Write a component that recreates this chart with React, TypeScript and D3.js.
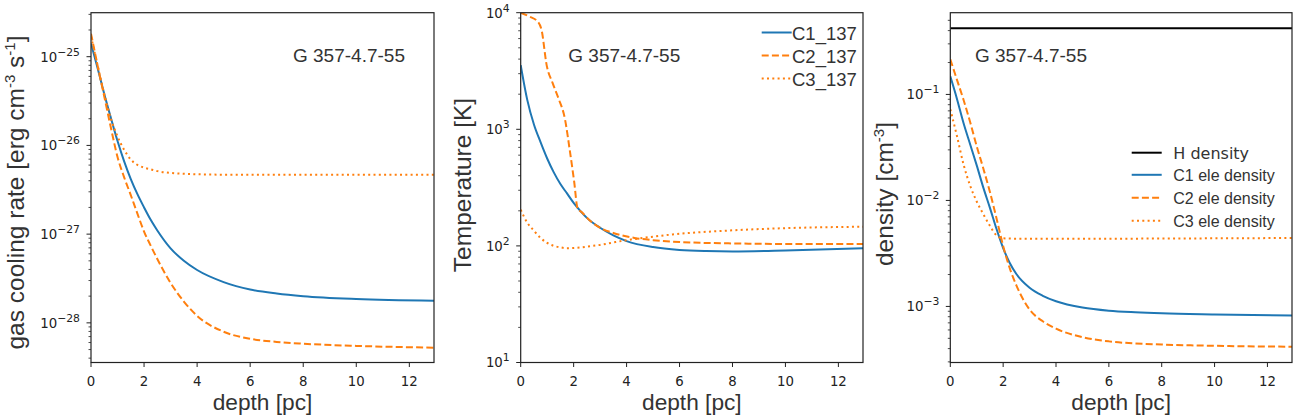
import React from 'react';
import * as d3 from 'd3';

// depth grid shared by most profiles (pc)
const depth = [0, 0.25, 0.5, 0.75, 1, 1.25, 1.5, 1.75, 2, 2.25, 2.5, 3, 3.5, 4, 5, 6, 7, 8, 10, 12.93];

// gas cooling rate [erg cm^-3 s^-1]
const coolC1 = [1.41e-25, 7.41e-26, 3.8e-26, 2.04e-26, 1.12e-26, 6.61e-27, 4.17e-27, 2.82e-27, 2.0e-27, 1.45e-27, 1.1e-27, 6.92e-28, 5.01e-28, 3.94e-28, 2.88e-28, 2.37e-28, 2.14e-28, 2.0e-28, 1.86e-28, 1.78e-28];
const coolC2 = [1.82e-25, 7.94e-26, 3.55e-26, 1.58e-26, 7.41e-27, 4.37e-27, 2.75e-27, 1.7e-27, 1.07e-27, 7.41e-28, 5.25e-28, 2.82e-28, 1.74e-28, 1.2e-28, 7.94e-29, 6.61e-29, 6.1e-29, 5.82e-29, 5.5e-29, 5.25e-29];
const coolC3 = [1.7e-25, 7.94e-26, 3.8e-26, 2.0e-26, 1.26e-26, 8.91e-27, 6.92e-27, 6.03e-27, 5.62e-27, 5.37e-27, 5.13e-27, 4.9e-27, 4.79e-27, 4.73e-27, 4.68e-27, 4.68e-27, 4.68e-27, 4.68e-27, 4.68e-27, 4.68e-27];

// temperature [K]
const tempC1 = [3550, 1780, 1100, 776, 562, 427, 339, 282, 234, 200, 174, 143, 123, 110, 97.7, 92.3, 90.2, 89.5, 91.2, 95.5];
const depthTempC2 = [0, 0.3, 0.66, 0.79, 0.98, 1.2, 1.42, 1.67, 1.86, 2.02, 2.15, 2.3, 2.6, 3.05, 3.5, 4.3, 5, 6, 8, 10, 12.93];
const tempC2 = [10000, 9330, 8320, 7080, 3550, 2510, 1860, 1230, 646, 355, 209, 195, 166, 141, 129, 117, 112, 108, 105, 104, 104];
const tempC3 = [204, 158, 135, 117, 106, 100, 97.2, 95.5, 95.9, 97.0, 98.6, 102, 107, 112, 120, 127, 132, 136, 142, 146];

// densities [cm^-3]
const depthH = [0, 12.93];
const densH = [0.42, 0.42];
const eleC1 = [0.148, 0.0912, 0.0537, 0.0339, 0.0214, 0.0132, 0.00851, 0.00537, 0.00355, 0.00257, 0.00202, 0.0015, 0.00126, 0.00112, 0.000977, 0.000912, 0.000881, 0.000861, 0.000841, 0.000822];
const eleC2 = [0.214, 0.138, 0.0891, 0.055, 0.0324, 0.02, 0.012, 0.00676, 0.00372, 0.00229, 0.00158, 0.000933, 0.000724, 0.000617, 0.000513, 0.000468, 0.000447, 0.000437, 0.000425, 0.000417];
const eleC3 = [0.0724, 0.0407, 0.0219, 0.0138, 0.00977, 0.00741, 0.00575, 0.00468, 0.00439, 0.00437, 0.00435, 0.00435, 0.00435, 0.00435, 0.00435, 0.00435, 0.00436, 0.00437, 0.00439, 0.00442];

const xTicks = [0, 2, 4, 6, 8, 10, 12];
const tempLegend = ['C1_137', 'C2_137', 'C3_137'];
const densLegend = ['H density', 'C1 ele density', 'C2 ele density', 'C3 ele density'];
const sourceName = 'G 357-4.7-55';

const BLUE = '#1f77b4';
const ORANGE = '#ff7f0e';
const DASH = '7,3.2';
const DOT = '2,3.3';
const SANS = '"Liberation Sans", Arial, Helvetica, sans-serif';
const TICKFONT = '"DejaVu Sans", sans-serif';
const INK = '#222';

const X_MAX = 12.93;

const sup = (n: number) => (n < 0 ? '\u2212' + Math.abs(n) : String(n));

// label pieces: plain text or superscript
type Piece = { t: string; up?: boolean };

function Label({ pieces }: { pieces: Piece[] }) {
  let raised = false;
  return (
    <>
      {pieces.map((p, i) => {
        let dy = 0;
        if (p.up && !raised) dy = -9;
        if (!p.up && raised) dy = 9;
        raised = !!p.up;
        return (
          <tspan key={i} dy={dy || undefined} fontSize={p.up ? 15 : undefined}>
            {p.t}
          </tspan>
        );
      })}
    </>
  );
}

function Panel({ id, left, right, top, bottom, yExp, series, yLabel, yLabelX, yLabelY, noteX, legend }) {
  const x = d3.scaleLinear().domain([0, X_MAX]).range([left, right]);
  const y = d3.scaleLog().domain([Math.pow(10, yExp[0]), Math.pow(10, yExp[1])]).range([bottom, top]);
  const ticks = y.ticks();
  const isMajor = (v) => Math.abs(Math.log10(v) - Math.round(Math.log10(v))) < 1e-6;
  const line = d3.line().curve(d3.curveMonotoneX);

  return (
    <g>
      <defs>
        <clipPath id={id}>
          <rect x={left} y={top} width={right - left} height={bottom - top} />
        </clipPath>
      </defs>
      <g clipPath={`url(#${id})`}>
        {series.map((s, i) => (
          <path
            key={i}
            d={line(s.x.map((d, j) => [x(d), y(s.y[j])]))}
            fill="none"
            stroke={s.color}
            strokeWidth={2}
            strokeDasharray={s.dash}
          />
        ))}
      </g>
      <rect x={left} y={top} width={right - left} height={bottom - top} fill="none" stroke={INK} strokeWidth={1.2} />
      {xTicks.map((t) => (
        <g key={t}>
          <line x1={x(t)} x2={x(t)} y1={bottom} y2={bottom + 4.5} stroke={INK} strokeWidth={1} />
          <text x={x(t)} y={bottom + 23.5} textAnchor="middle" fontFamily={TICKFONT} fontSize={13.3} fill={INK}>
            {t}
          </text>
        </g>
      ))}
      {ticks.map((v, i) => {
        const major = isMajor(v);
        const yy = y(v);
        return (
          <g key={i}>
            <line x1={left - (major ? 4.5 : 2.5)} x2={left} y1={yy} y2={yy} stroke={INK} strokeWidth={major ? 1 : 0.8} />
            {major && (
              <text x={left - 11} y={yy + 4.8} textAnchor="end" fontFamily={TICKFONT} fontSize={13.3} fill={INK}>
                10
                <tspan fontSize={10.8} dy={-6}>
                  {sup(Math.round(Math.log10(v)))}
                </tspan>
              </text>
            )}
          </g>
        );
      })}
      <text x={(left + right) / 2} y={409.5} textAnchor="middle" fontFamily={SANS} fontSize={22.7} fill="#333">
        depth [pc]
      </text>
      <text
        transform={`translate(${yLabelX},${yLabelY}) rotate(-90)`}
        textAnchor="middle"
        fontFamily={SANS}
        fontSize={24.5}
        fill="#333"
      >
        <Label pieces={yLabel} />
      </text>
      <text x={left + noteX} y={62} fontFamily={SANS} fontSize={19} fill="#333">
        {sourceName}
      </text>
      {legend}
    </g>
  );
}

export default function App() {
  const p1 = { left: 91, right: 434 };
  const p2 = { left: 520.7, right: 863 };
  const p3 = { left: 950.3, right: 1292 };
  const top = 12.7;
  const bottom = 362.5;

  const tempLegendRows = [
    { color: BLUE, dash: undefined },
    { color: ORANGE, dash: DASH },
    { color: ORANGE, dash: DOT },
  ];
  const densLegendRows = [
    { color: '#000', dash: undefined, font: '"DejaVu Sans", sans-serif', y: 152.7 },
    { color: BLUE, dash: undefined, font: SANS, y: 174.8 },
    { color: ORANGE, dash: DASH, font: SANS, y: 197.8 },
    { color: ORANGE, dash: DOT, font: SANS, y: 220.7 },
  ];

  return (
    <svg
      width={1303}
      height={417}
      style={{ position: 'absolute', left: 0, top: 0, background: '#fff' }}
    >
      <rect width={1303} height={417} fill="#fff" />
      <Panel
        id="clip-cool"
        {...p1}
        top={top}
        bottom={bottom}
        yExp={[-28.447, -24.504]}
        series={[
          { x: depth, y: coolC1, color: BLUE },
          { x: depth, y: coolC2, color: ORANGE, dash: DASH },
          { x: depth, y: coolC3, color: ORANGE, dash: DOT },
        ]}
        yLabel={[
          { t: 'gas cooling rate [erg cm' },
          { t: '-3', up: true },
          { t: ' s' },
          { t: '-1', up: true },
          { t: ']' },
        ]}
        yLabelX={24}
        yLabelY={192.5}
        noteX={202}
        legend={null}
      />
      <Panel
        id="clip-temp"
        {...p2}
        top={top}
        bottom={bottom}
        yExp={[1, 4]}
        series={[
          { x: depth, y: tempC1, color: BLUE },
          { x: depthTempC2, y: tempC2, color: ORANGE, dash: DASH },
          { x: depth, y: tempC3, color: ORANGE, dash: DOT },
        ]}
        yLabel={[{ t: 'Temperature [K]' }]}
        yLabelX={471}
        yLabelY={185}
        noteX={47.6}
        legend={
          <g>
            {tempLegend.map((name, i) => {
              const ry = 32.5 + i * 23;
              return (
                <g key={name}>
                  <line x1={761.7} x2={791.7} y1={ry} y2={ry} stroke={tempLegendRows[i].color} strokeWidth={2} strokeDasharray={tempLegendRows[i].dash} />
                  <text x={792} y={ry + 7} fontFamily={SANS} fontSize={18.5} fill="#333">
                    {name}
                  </text>
                </g>
              );
            })}
          </g>
        }
      />
      <Panel
        id="clip-dens"
        {...p3}
        top={top}
        bottom={bottom}
        yExp={[-3.529, -0.229]}
        series={[
          { x: depthH, y: densH, color: '#000' },
          { x: depth, y: eleC1, color: BLUE },
          { x: depth, y: eleC2, color: ORANGE, dash: DASH },
          { x: depth, y: eleC3, color: ORANGE, dash: DOT },
        ]}
        yLabel={[{ t: 'density [cm' }, { t: '-3', up: true }, { t: ']' }]}
        yLabelX={893}
        yLabelY={194}
        noteX={24.7}
        legend={
          <g>
            {densLegend.map((name, i) => {
              const r = densLegendRows[i];
              return (
                <g key={name}>
                  <line x1={1131.7} x2={1161.7} y1={r.y} y2={r.y} stroke={r.color} strokeWidth={2} strokeDasharray={r.dash} />
                  <text x={1173.3} y={r.y + 5.8} fontFamily={r.font} fontSize={16} fill="#333">
                    {name}
                  </text>
                </g>
              );
            })}
          </g>
        }
      />
    </svg>
  );
}
